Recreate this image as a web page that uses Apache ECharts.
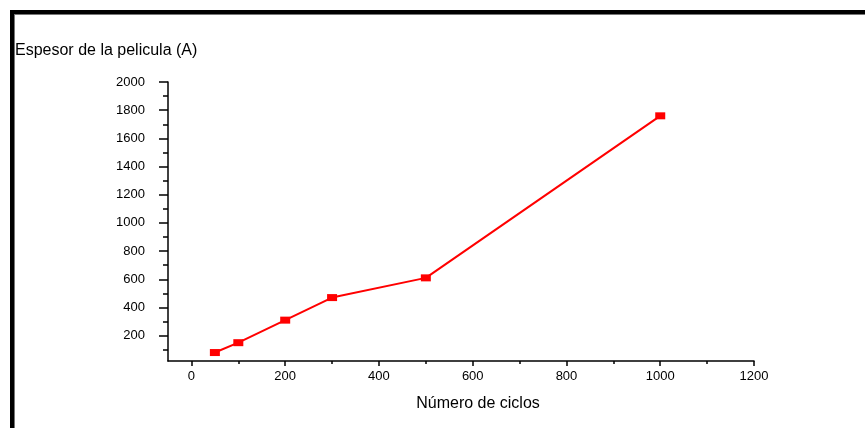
<!DOCTYPE html>
<html>
<head>
<meta charset="utf-8">
<script src="https://cdn.jsdelivr.net/npm/echarts@6/dist/echarts.min.js"></script>
<style>html,body{margin:0;padding:0;background:#fff}#c{width:865px;height:428px}</style>
</head>
<body>
<div id="c"></div>
<script>
var cycles = [50, 100, 200, 300, 500, 1000];
var thickness = [80, 150, 310, 470, 610, 1760];
var xMajorTicks = [0, 200, 400, 600, 800, 1000, 1200];
var xMinorTicks = [100, 300, 500, 700, 900, 1100];
var yMajorTicks = [200, 400, 600, 800, 1000, 1200, 1400, 1600, 1800, 2000];
var yMinorTicks = [100, 300, 500, 700, 900, 1100, 1300, 1500, 1700, 1900];
var yTitle = 'Espesor de la pelicula (A)';
var xTitle = 'Número de ciclos';

var font = 'Liberation Sans, Arial, sans-serif';
var chart = echarts.init(document.getElementById('c'));
var points = cycles.map(function (c, i) { return [c, thickness[i]]; });
var axisLineStyle = { show: true, onZero: false, lineStyle: { color: '#000', width: 1.5 } };
var plain = function (v) { return String(v); };

chart.setOption({
  animation: false,
  backgroundColor: '#fff',
  grid: { left: 168, right: 111, top: 82, bottom: 67 },
  xAxis: [
    {
      type: 'value', min: -50, max: 1200, position: 'bottom',
      axisLine: axisLineStyle,
      splitLine: { show: false },
      axisTick: { show: true, customValues: xMajorTicks, length: 5, lineStyle: { color: '#000', width: 1.5 } },
      axisLabel: { customValues: xMajorTicks, formatter: plain, color: '#000', fontSize: 13, fontFamily: font, margin: 9 }
    },
    {
      type: 'value', min: -50, max: 1200, position: 'bottom',
      axisLine: { show: false, onZero: false },
      splitLine: { show: false },
      axisTick: { show: true, customValues: xMinorTicks, length: 3, lineStyle: { color: '#000', width: 1.5 } },
      axisLabel: { show: false }
    }
  ],
  yAxis: [
    {
      type: 'value', min: 20, max: 2000, position: 'left',
      axisLine: axisLineStyle,
      splitLine: { show: false },
      axisTick: { show: true, customValues: yMajorTicks, length: 9, lineStyle: { color: '#000', width: 1.5 } },
      axisLabel: { customValues: yMajorTicks, formatter: plain, color: '#000', fontSize: 13, fontFamily: font, margin: 23 }
    },
    {
      type: 'value', min: 20, max: 2000, position: 'left',
      axisLine: { show: false, onZero: false },
      splitLine: { show: false },
      axisTick: { show: true, customValues: yMinorTicks, length: 5, lineStyle: { color: '#000', width: 1.5 } },
      axisLabel: { show: false }
    }
  ],
  series: [{
    type: 'line',
    xAxisIndex: 0, yAxisIndex: 0,
    data: points,
    symbol: 'rect',
    symbolSize: [10, 7],
    itemStyle: { color: '#ff0000' },
    lineStyle: { color: '#ff0000', width: 2 }
  }],
  graphic: [
    { type: 'rect', shape: { x: 10, y: 10, width: 855, height: 4 }, style: { fill: '#000' } },
    { type: 'rect', shape: { x: 10, y: 10, width: 4, height: 418 }, style: { fill: '#000' } },
    { type: 'rect', shape: { x: 14, y: 14, width: 851, height: 1 }, style: { fill: '#777' } },
    { type: 'rect', shape: { x: 14, y: 14, width: 1, height: 414 }, style: { fill: '#777' } },
    { type: 'text', x: 15, y: 51, style: { text: yTitle, fontSize: 16, fontFamily: font, fill: '#000', verticalAlign: 'middle' } },
    { type: 'text', x: 478, y: 404, style: { text: xTitle, fontSize: 16, fontFamily: font, fill: '#000', align: 'center', verticalAlign: 'middle' } }
  ]
});
</script>
</body>
</html>
